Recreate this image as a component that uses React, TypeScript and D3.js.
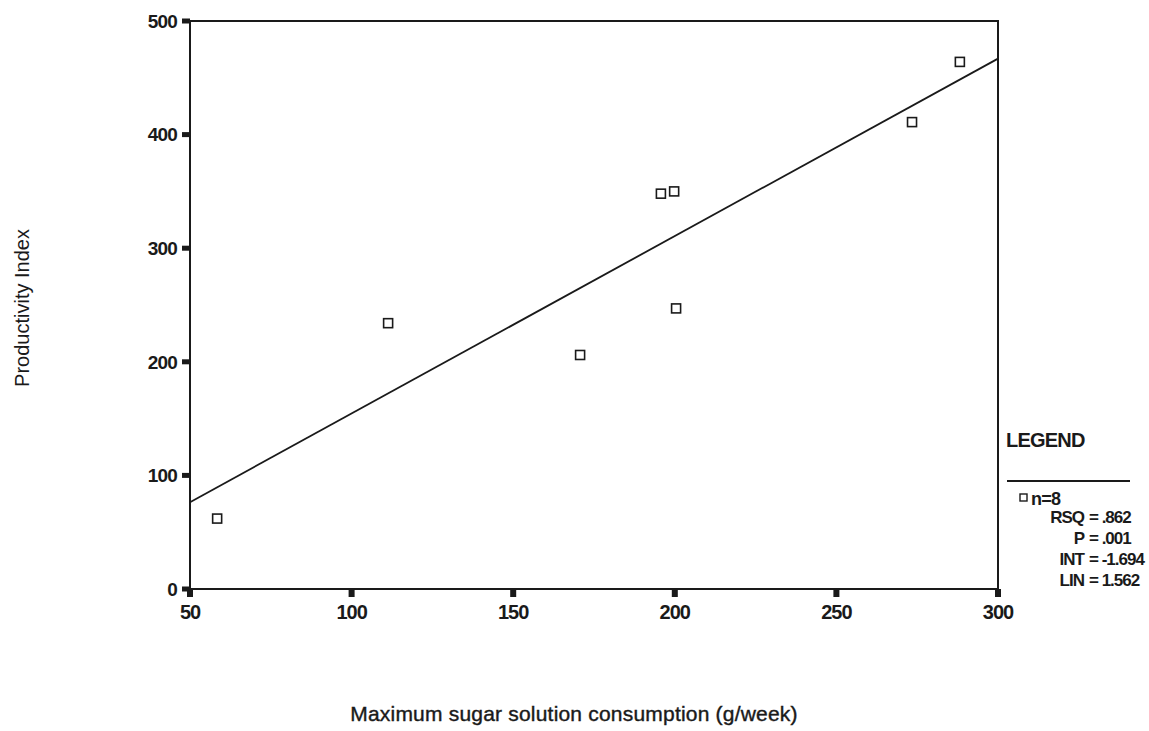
import React from "react";
import * as d3 from "d3";

const consumption = [58.4, 111.3, 170.7, 195.7, 199.8, 200.4, 273.4, 288.2];
const productivity = [62, 234, 206, 348, 350, 247, 411, 464];
const xTicks = [50, 100, 150, 200, 250, 300];
const yTicks = [0, 100, 200, 300, 400, 500];
const regIntercept = -1.694;
const regSlope = 1.562;
const legendLabels = ["RSQ", "P", "INT", "LIN"];
const legendValues = [".862", ".001", "-1.694", "1.562"];

const W = 1149;
const H = 731;
const left = 190, right = 998, top = 21, bottom = 589;

export default function App() {
  const x = d3.scaleLinear().domain([50, 300]).range([left, right]);
  const y = d3.scaleLinear().domain([0, 500]).range([bottom, top]);
  const line = d3.line<number>().x((d) => x(d)).y((d) => y(regIntercept + regSlope * d));
  const font = "'Liberation Sans', Arial, sans-serif";
  const ink = "#1a1a1a";
  return (
    <svg width={W} height={H} style={{ position: "absolute", left: 0, top: 0, background: "#fff" }} fontFamily={font}>
      <rect x={0} y={0} width={W} height={H} fill="#fff" />
      <rect x={left} y={top} width={right - left} height={bottom - top} fill="none" stroke={ink} strokeWidth={2} />
      {yTicks.map((t) => (
        <g key={"y" + t}>
          <rect x={left - 8} y={y(t) - 2.5} width={8} height={5} fill={ink} />
          <text x={left - 13} y={y(t)} dy="0.36em" textAnchor="end" fontSize={19} fontWeight="bold" letterSpacing={-0.8} fill={ink}>{t}</text>
        </g>
      ))}
      {xTicks.map((t) => (
        <g key={"x" + t}>
          <rect x={x(t) - 3} y={bottom} width={6} height={8} fill={ink} />
          <text x={x(t)} y={bottom + 30} textAnchor="middle" fontSize={20} fontWeight="bold" letterSpacing={-1} fill={ink}>{t}</text>
        </g>
      ))}
      <path d={line([50, 300]) || ""} fill="none" stroke={ink} strokeWidth={1.8} />
      {consumption.map((c, i) => (
        <rect key={i} x={x(c) - 4.5} y={y(productivity[i]) - 4.5} width={9} height={9} fill="#fff" stroke={ink} strokeWidth={1.6} />
      ))}
      <text x={574} y={721} textAnchor="middle" fontSize={21} letterSpacing={0.2} stroke={ink} strokeWidth={0.4} fill={ink}>Maximum sugar solution consumption (g/week)</text>
      <text transform="translate(29,308) rotate(-90)" textAnchor="middle" fontSize={20} fill={ink}>Productivity Index</text>
      <text x={1006} y={447} fontSize={20} fontWeight="bold" letterSpacing={-0.8} fill={ink}>LEGEND</text>
      <line x1={1007} x2={1130} y1={481} y2={481} stroke={ink} strokeWidth={2} />
      <rect x={1020} y={494} width={7} height={7} fill="#fff" stroke={ink} strokeWidth={1.4} />
      <text x={1031} y={505} fontSize={18} fontWeight="bold" letterSpacing={-0.8} fill={ink}>n=8</text>
      {legendLabels.map((l, i) => (
        <g key={l}>
          <text x={1084} y={523 + i * 21} textAnchor="end" fontSize={17} fontWeight="bold" letterSpacing={-1} fill={ink}>{l}</text>
          <text x={1089} y={523 + i * 21} fontSize={17} fontWeight="bold" letterSpacing={-1} fill={ink}>{"= " + legendValues[i]}</text>
        </g>
      ))}
    </svg>
  );
}
